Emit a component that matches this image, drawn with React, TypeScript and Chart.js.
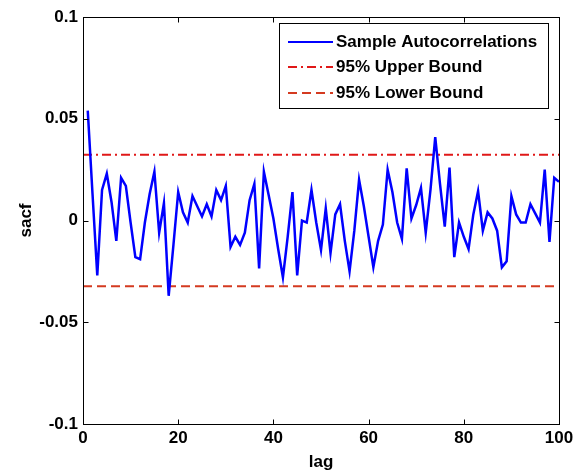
import React, { useEffect, useRef } from "react";
import { Chart, registerables } from "chart.js";

Chart.register(...registerables);

// ---------- data ----------
const lags: number[] = Array.from({ length: 100 }, (_, i) => i + 1);

const sacf: number[] = [
  0.054, 0.013, -0.027, 0.015, 0.023, 0.009, -0.010, 0.021, 0.017, -0.001,
  -0.018, -0.019, -0.001, 0.013, 0.024, -0.006, 0.0085, -0.037, -0.012, 0.014,
  0.004, -0.001, 0.012, 0.007, 0.002, 0.008, 0.002, 0.015, 0.010, 0.017,
  -0.013, -0.008, -0.012, -0.006, 0.010, 0.018, -0.0235, 0.024, 0.0125, 0.001,
  -0.014, -0.028, -0.008, 0.014, -0.027, 0.000, -0.001, 0.015, -0.001, -0.0145,
  0.006, -0.016, 0.003, 0.008, -0.010, -0.025, -0.005, 0.020, 0.007, -0.008,
  -0.023, -0.010, -0.002, 0.025, 0.014, -0.001, -0.009, 0.0256, 0.001, 0.0076,
  0.016, -0.006, 0.015, 0.041, 0.018, -0.003, 0.026, -0.018, -0.001, -0.008,
  -0.014, 0.003, 0.0145, -0.005, 0.004, 0.001, -0.005, -0.023, -0.020, 0.012,
  0.003, -0.001, -0.001, 0.008, 0.0035, -0.001, 0.025, -0.0105, 0.021, 0.019,
];

const boundLags: number[] = [0, 100];
const upperBound = 0.0323;
const lowerBound = -0.0323;

const xTickValues: number[] = [0, 20, 40, 60, 80, 100];
const yTickValues: number[] = [-0.1, -0.05, 0, 0.05, 0.1];

const seriesLabels: string[] = [
  "Sample Autocorrelations",
  "95% Upper Bound",
  "95% Lower Bound",
];

// ---------- styles ----------
const FONT_FAMILY = "'Liberation Sans', Arial, Helvetica, sans-serif";
const FONT_SIZE = 17;

const boxPlugin = {
  id: "matlabBox",
  afterDatasetsDraw(chart: any) {
    const { ctx, chartArea, scales } = chart;
    const l = Math.round(chartArea.left) + 0.5;
    const r = Math.round(chartArea.right) + 0.5;
    const t = Math.round(chartArea.top) + 0.5;
    const b = Math.round(chartArea.bottom) + 0.5;
    ctx.save();
    ctx.strokeStyle = "#000";
    ctx.lineWidth = 1;
    ctx.setLineDash([]);
    ctx.strokeRect(l, t, r - l, b - t);
    const tl = 5;
    ctx.beginPath();
    scales.x.ticks.forEach((tk: any) => {
      const px = Math.round(scales.x.getPixelForValue(tk.value)) + 0.5;
      ctx.moveTo(px, b);
      ctx.lineTo(px, b - tl);
      ctx.moveTo(px, t);
      ctx.lineTo(px, t + tl);
    });
    scales.y.ticks.forEach((tk: any) => {
      const py = Math.round(scales.y.getPixelForValue(tk.value)) + 0.5;
      ctx.moveTo(l, py);
      ctx.lineTo(l + tl, py);
      ctx.moveTo(r, py);
      ctx.lineTo(r - tl, py);
    });
    ctx.stroke();
    ctx.restore();
  },
};

const legendPlugin = {
  id: "matlabLegend",
  afterDraw(chart: any) {
    const { ctx } = chart;
    const bx = 279.5;
    const by = 23.5;
    const bw = 269;
    const bh = 85;
    ctx.save();
    ctx.fillStyle = "#fff";
    ctx.fillRect(bx, by, bw, bh);
    ctx.strokeStyle = "#000";
    ctx.lineWidth = 1;
    ctx.setLineDash([]);
    ctx.strokeRect(bx, by, bw, bh);
    const rows = [42, 67, 93];
    chart.data.datasets.forEach((ds: any, i: number) => {
      const y = rows[i];
      ctx.beginPath();
      ctx.strokeStyle = ds.borderColor;
      ctx.lineWidth = 2;
      ctx.setLineDash(ds.borderDash || []);
      ctx.moveTo(288, y);
      ctx.lineTo(333, y);
      ctx.stroke();
      ctx.setLineDash([]);
      ctx.fillStyle = "#000";
      ctx.font = `bold ${FONT_SIZE}px ${FONT_FAMILY}`;
      ctx.textBaseline = "middle";
      ctx.textAlign = "left";
      ctx.fillText(ds.label, 336, y);
    });
    ctx.restore();
  },
};

export default function App() {
  const canvasRef = useRef<HTMLCanvasElement | null>(null);

  useEffect(() => {
    if (!canvasRef.current) return;
    const tickFont = { family: FONT_FAMILY, size: FONT_SIZE, weight: "bold" as const };
    const chart = new Chart(canvasRef.current, {
      type: "line",
      data: {
        datasets: [
          {
            label: seriesLabels[0],
            data: lags.map((l, i) => ({ x: l, y: sacf[i] })),
            borderColor: "#0000FF",
            borderWidth: 2.5,
            pointRadius: 0,
            tension: 0,
            fill: false,
          },
          {
            label: seriesLabels[1],
            data: boundLags.map((l) => ({ x: l, y: upperBound })),
            borderColor: "#E01818",
            borderWidth: 2,
            borderDash: [9, 4, 2, 4],
            pointRadius: 0,
            fill: false,
          },
          {
            label: seriesLabels[2],
            data: boundLags.map((l) => ({ x: l, y: lowerBound })),
            borderColor: "#D43A20",
            borderWidth: 2,
            borderDash: [9, 5],
            pointRadius: 0,
            fill: false,
          },
        ],
      },
      options: {
        animation: false,
        responsive: false,
        devicePixelRatio: 1,
        layout: { padding: { top: 17, right: 25, left: 0, bottom: 0 } },
        plugins: {
          legend: { display: false },
          tooltip: { enabled: false },
        },
        scales: {
          x: {
            type: "linear",
            min: 0,
            max: 100,
            afterBuildTicks: (scale: any) => {
              scale.ticks = xTickValues.map((v) => ({ value: v }));
            },
            afterFit: (scale: any) => {
              scale.height = 51;
            },
            grid: { display: false, drawTicks: false },
            border: { display: false },
            ticks: {
              color: "#000",
              font: tickFont,
              padding: 4,
              maxRotation: 0,
              autoSkip: false,
              callback: (v: any) => String(Math.round(Number(v))),
            },
            title: {
              display: true,
              text: "lag",
              color: "#000",
              font: tickFont,
              padding: { top: 0, bottom: 2 },
            },
          },
          y: {
            type: "linear",
            min: -0.1,
            max: 0.1,
            afterBuildTicks: (scale: any) => {
              scale.ticks = yTickValues.map((v) => ({ value: v }));
            },
            afterFit: (scale: any) => {
              scale.width = 83;
            },
            grid: { display: false, drawTicks: false },
            border: { display: false },
            ticks: {
              color: "#000",
              font: tickFont,
              padding: 5,
              autoSkip: false,
              callback: (v: any) => String(Math.round(Number(v) * 100) / 100),
            },
            title: {
              display: true,
              text: "sacf",
              color: "#000",
              font: tickFont,
              padding: { top: 16, bottom: 0 },
            },
          },
        },
      },
      plugins: [boxPlugin, legendPlugin],
    });
    return () => chart.destroy();
  }, []);

  return (
    <div
      style={{
        position: "fixed",
        left: 0,
        top: 0,
        width: 584,
        height: 475,
        background: "#fff",
      }}
    >
      <canvas ref={canvasRef} width={584} height={475} />
    </div>
  );
}
